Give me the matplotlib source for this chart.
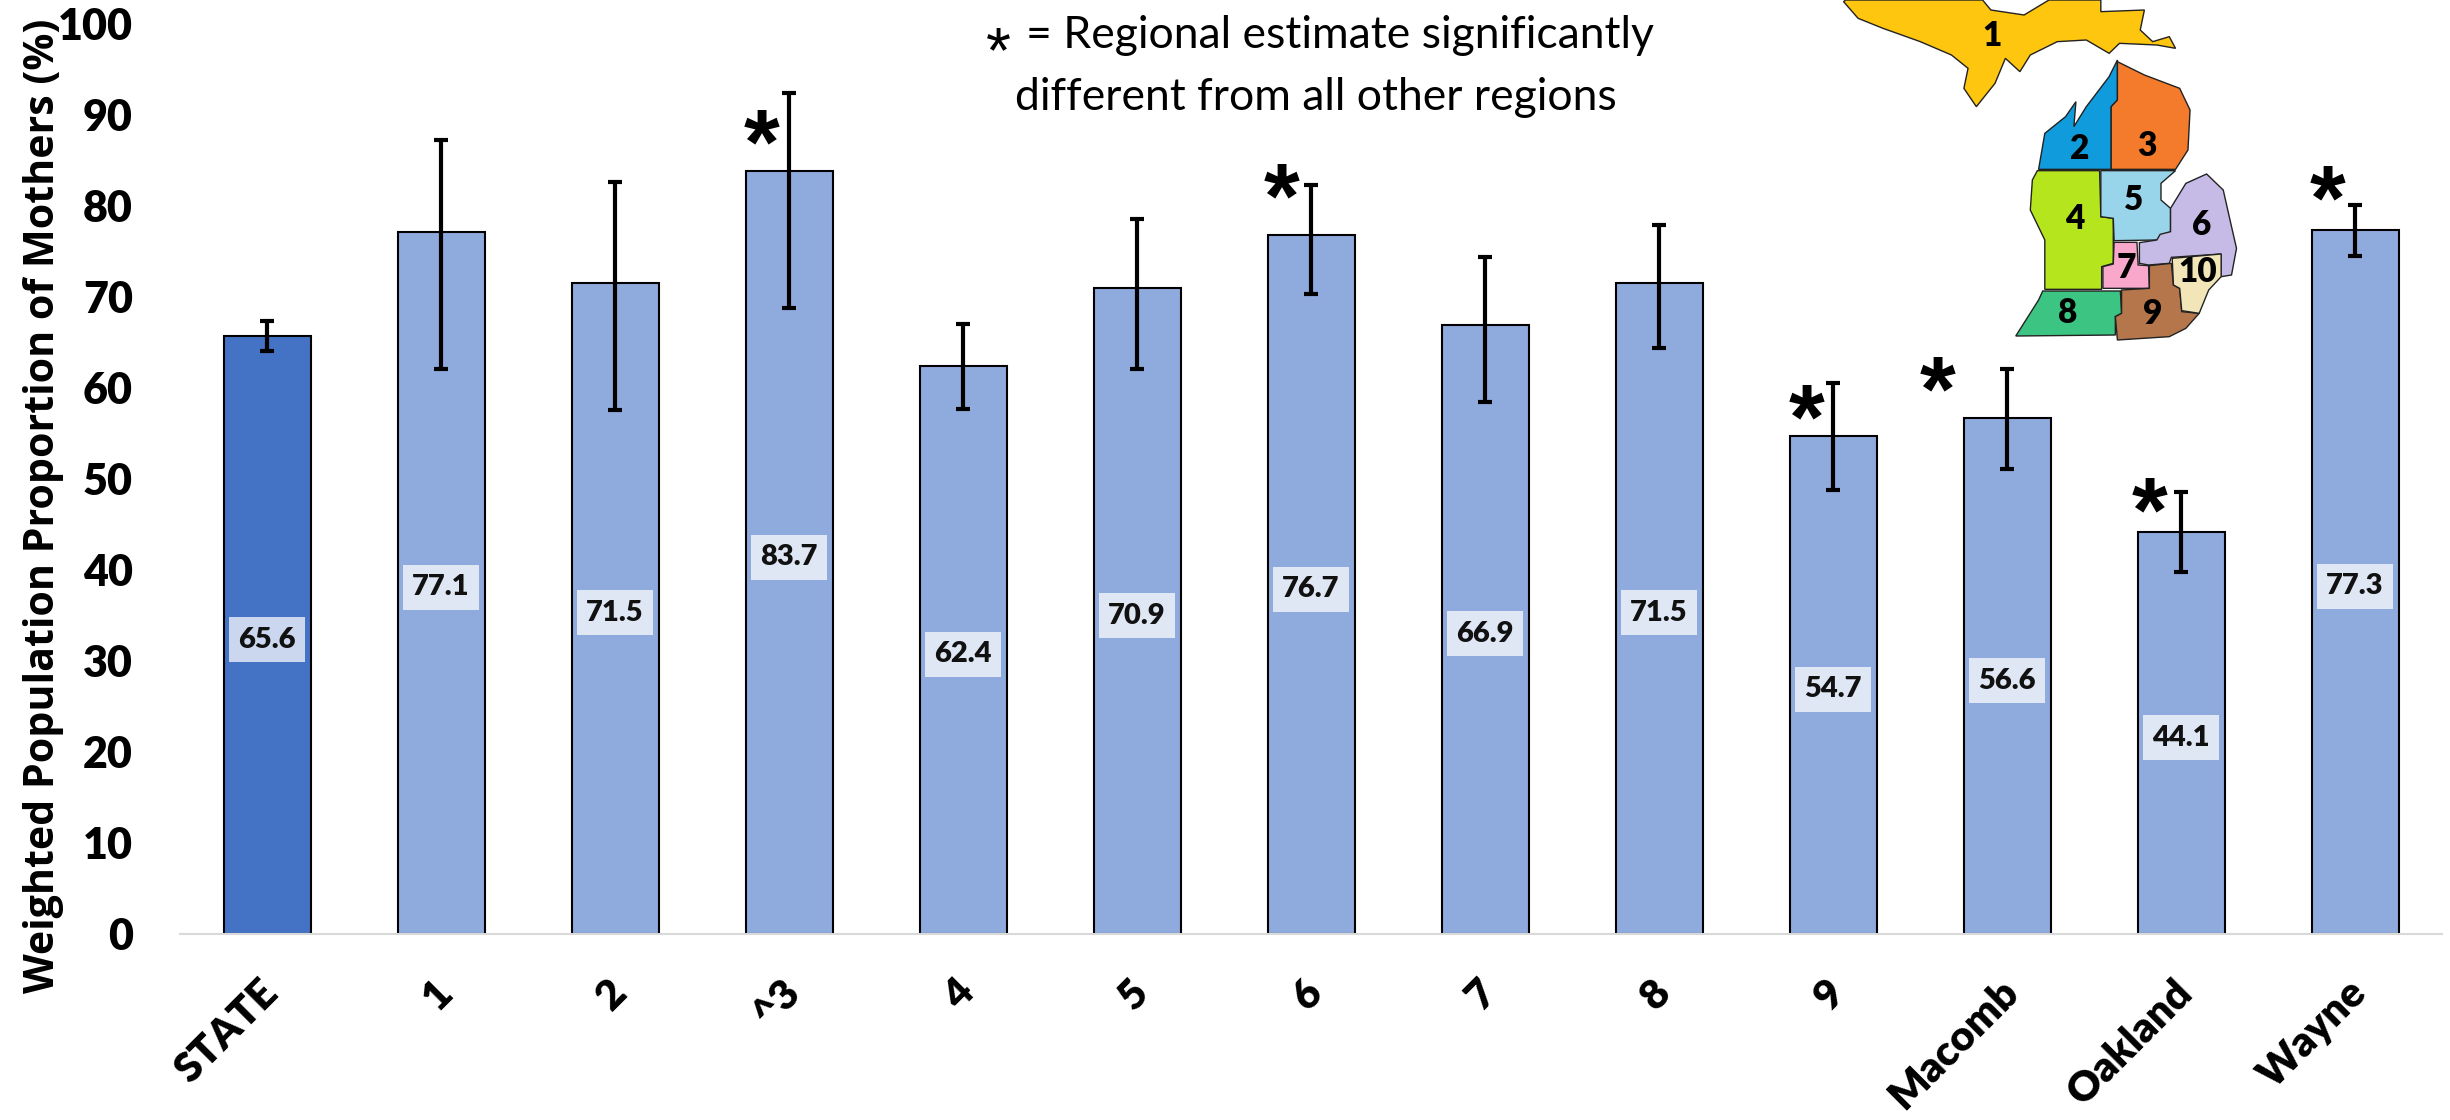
import matplotlib
matplotlib.use('Agg')
import matplotlib.pyplot as plt
from matplotlib.patches import Polygon
from matplotlib.transforms import ScaledTranslation
import numpy as np

# chart data
categories = ['STATE', '1', '2', '^3', '4', '5', '6', '7', '8', '9', 'Macomb', 'Oakland', 'Wayne']
values = [65.6, 77.1, 71.5, 83.7, 62.4, 70.9, 76.7, 66.9, 71.5, 54.7, 56.6, 44.1, 77.3]
err_low = [64.0, 62.0, 57.5, 68.7, 57.6, 62.0, 70.3, 58.4, 64.3, 48.7, 51.0, 39.7, 74.4]
err_high = [67.3, 87.2, 82.5, 92.3, 67.0, 78.5, 82.2, 74.3, 77.8, 60.5, 62.0, 48.5, 80.0]
star_idx = [3, 6, 9, 10, 11, 12]
star_dx = [-0.16, -0.17, -0.15, -0.40, -0.18, -0.16]
star_y = [87.2, 81.2, 57.0, 60.0, 46.8, 81.0]

# map outlines (crop coordinates)
map_regions = {
    '1': ('#FFC60F', [(105, 5), (140, 55), (200, 85), (290, 125), (365, 165), (405, 205), (395, 265), (425, 320),
                      (470, 250), (495, 175), (530, 215), (555, 165), (620, 125), (690, 120), (745, 160), (770, 130),
                      (860, 135), (905, 145), (890, 110), (850, 125), (820, 90), (830, 30), (725, 35), (725, 0),
                      (600, 0), (540, 45), (460, 30), (440, 0), (110, 0)], (462, 108)),
    '2': ('#0F9BDC', [(575, 508), (590, 400), (640, 350), (665, 305), (660, 380), (690, 320), (745, 230), (765, 180),
                      (765, 300), (750, 320), (750, 508)], (673, 448)),
    '3': ('#F47B2B', [(765, 185), (830, 225), (915, 265), (940, 330), (935, 450), (905, 508), (750, 508), (750, 320),
                      (765, 300)], (835, 438)),
    '4': ('#B5E61D', [(572, 512), (722, 512), (725, 650), (755, 655), (755, 790), (727, 800), (727, 868), (590, 868),
                      (590, 720), (555, 630), (560, 540)], (662, 658)),
    '5': ('#99D5EA', [(725, 512), (905, 512), (870, 550), (870, 600), (893, 625), (893, 695), (860, 720), (757, 722),
                      (755, 655), (725, 650)], (803, 600)),
    '6': ('#C5BBE6', [(980, 522), (1020, 570), (1040, 680), (1052, 745), (1040, 825), (1015, 830), (1015, 762),
                      (895, 772), (890, 790), (840, 795), (818, 790), (818, 728), (860, 720), (868, 703), (893, 695),
                      (893, 625), (930, 550)], (968, 675)),
    '7': ('#F9A8CB', [(757, 727), (812, 727), (815, 795), (840, 797), (842, 865), (730, 865), (730, 800),
                      (755, 792)], (787, 805)),
    '8': ('#3CC582', [(585, 873), (772, 873), (775, 940), (760, 950), (760, 1005), (520, 1008), (575, 900)], (645, 940)),
    '9': ('#B5764B', [(775, 870), (842, 865), (842, 797), (895, 790), (900, 855), (915, 865), (920, 935), (962, 940),
                      (930, 985), (890, 1010), (765, 1020), (760, 950), (775, 940)], (850, 943)),
    '10': ('#F2E6B8', [(897, 775), (1015, 762), (1015, 830), (985, 870), (962, 940), (920, 932), (915, 865),
                       (900, 855)], (958, 817)),
}

W, H = 2450, 1120
fig = plt.figure(figsize=(W / 100, H / 100), dpi=100)
plt.rcParams['font.family'] = ['Lato', 'DejaVu Sans']

ax = fig.add_axes([180 / W, (H - 934) / H, (2442 - 180) / W, 911 / H])
x = np.arange(len(categories))
colors = ['#4472C4'] + ['#8FAADC'] * (len(categories) - 1)
ax.bar(x, values, width=0.5, color=colors, edgecolor='black', linewidth=1.5, zorder=2)

vals = np.array(values)
yerr = [vals - np.array(err_low), np.array(err_high) - vals]
ax.errorbar(x, vals, yerr=yerr, fmt='none', ecolor='black', elinewidth=3, capsize=5, capthick=3, zorder=3)

ax.set_xlim(-0.5, len(categories) - 0.5)
ax.set_ylim(0, 100)
ax.set_yticks(np.arange(0, 101, 10))
ax.tick_params(axis='y', length=0, pad=34, labelsize=31)
ax.tick_params(axis='x', length=0, pad=28, labelsize=30)
ax.set_xticks(x)
ax.set_xticklabels(categories, rotation=45, ha='right', rotation_mode='anchor', fontweight=800)
# nudge the slanted labels left, they sit a bit off centre in the original
shift = ScaledTranslation(-6 / 72, 0, fig.dpi_scale_trans)
for lab in ax.get_xticklabels():
    lab.set_transform(lab.get_transform() + shift)
for lab in ax.get_yticklabels():
    lab.set_fontweight(800)
for side in ['top', 'right', 'left']:
    ax.spines[side].set_visible(False)
ax.spines['bottom'].set_color('#D9D9D9')
ax.spines['bottom'].set_linewidth(1.5)

# value labels halfway up the bars
for i, v in enumerate(values):
    ax.text(i, v / 2 - 0.5, '%.1f' % v, ha='center', va='center', fontsize=21, fontweight=800, color='#111111', zorder=4,
            bbox=dict(facecolor='white', edgecolor='none', alpha=0.72, pad=7))

for i, dx, y in zip(star_idx, star_dx, star_y):
    ax.text(i + dx, y, '*', ha='center', va='center_baseline', fontsize=66, fontweight='bold', zorder=5,
            family=['Liberation Sans', 'DejaVu Sans'])

fig.text(44 / W, 1 - 506 / H, 'Weighted Population Proportion of Mothers (%)', rotation=90, ha='center', va='center',
         fontsize=29.6, fontweight='bold', family=['Open Sans', 'DejaVu Sans'])

# note at the top
fig.text(998 / W, 1 - 49 / H, '*', ha='center', va='center_baseline', fontsize=46,
         family=['Liberation Sans', 'DejaVu Sans'])
fig.text(1026 / W, 1 - 36 / H, '= Regional estimate significantly', ha='left', va='center', fontsize=32)
fig.text(1316 / W, 1 - 98 / H, 'different from all other regions', ha='center', va='center', fontsize=32)

# Michigan map inset, drawn on a full figure overlay in pixels
mp = fig.add_axes([0, 0, 1, 1], facecolor='none')
mp.set_xlim(0, W)
mp.set_ylim(H, 0)
mp.axis('off')
for name, (col, pts, lab) in map_regions.items():
    xy = [(1800 + u / 2.41, v / 3) for u, v in pts]
    mp.add_patch(Polygon(xy, closed=True, facecolor=col, edgecolor='#222222', linewidth=1.0, clip_on=True))
    mp.text(1800 + lab[0] / 2.41, lab[1] / 3, name, ha='center', va='center', fontsize=24, fontweight=800)

fig.savefig('out.png', dpi=100)
